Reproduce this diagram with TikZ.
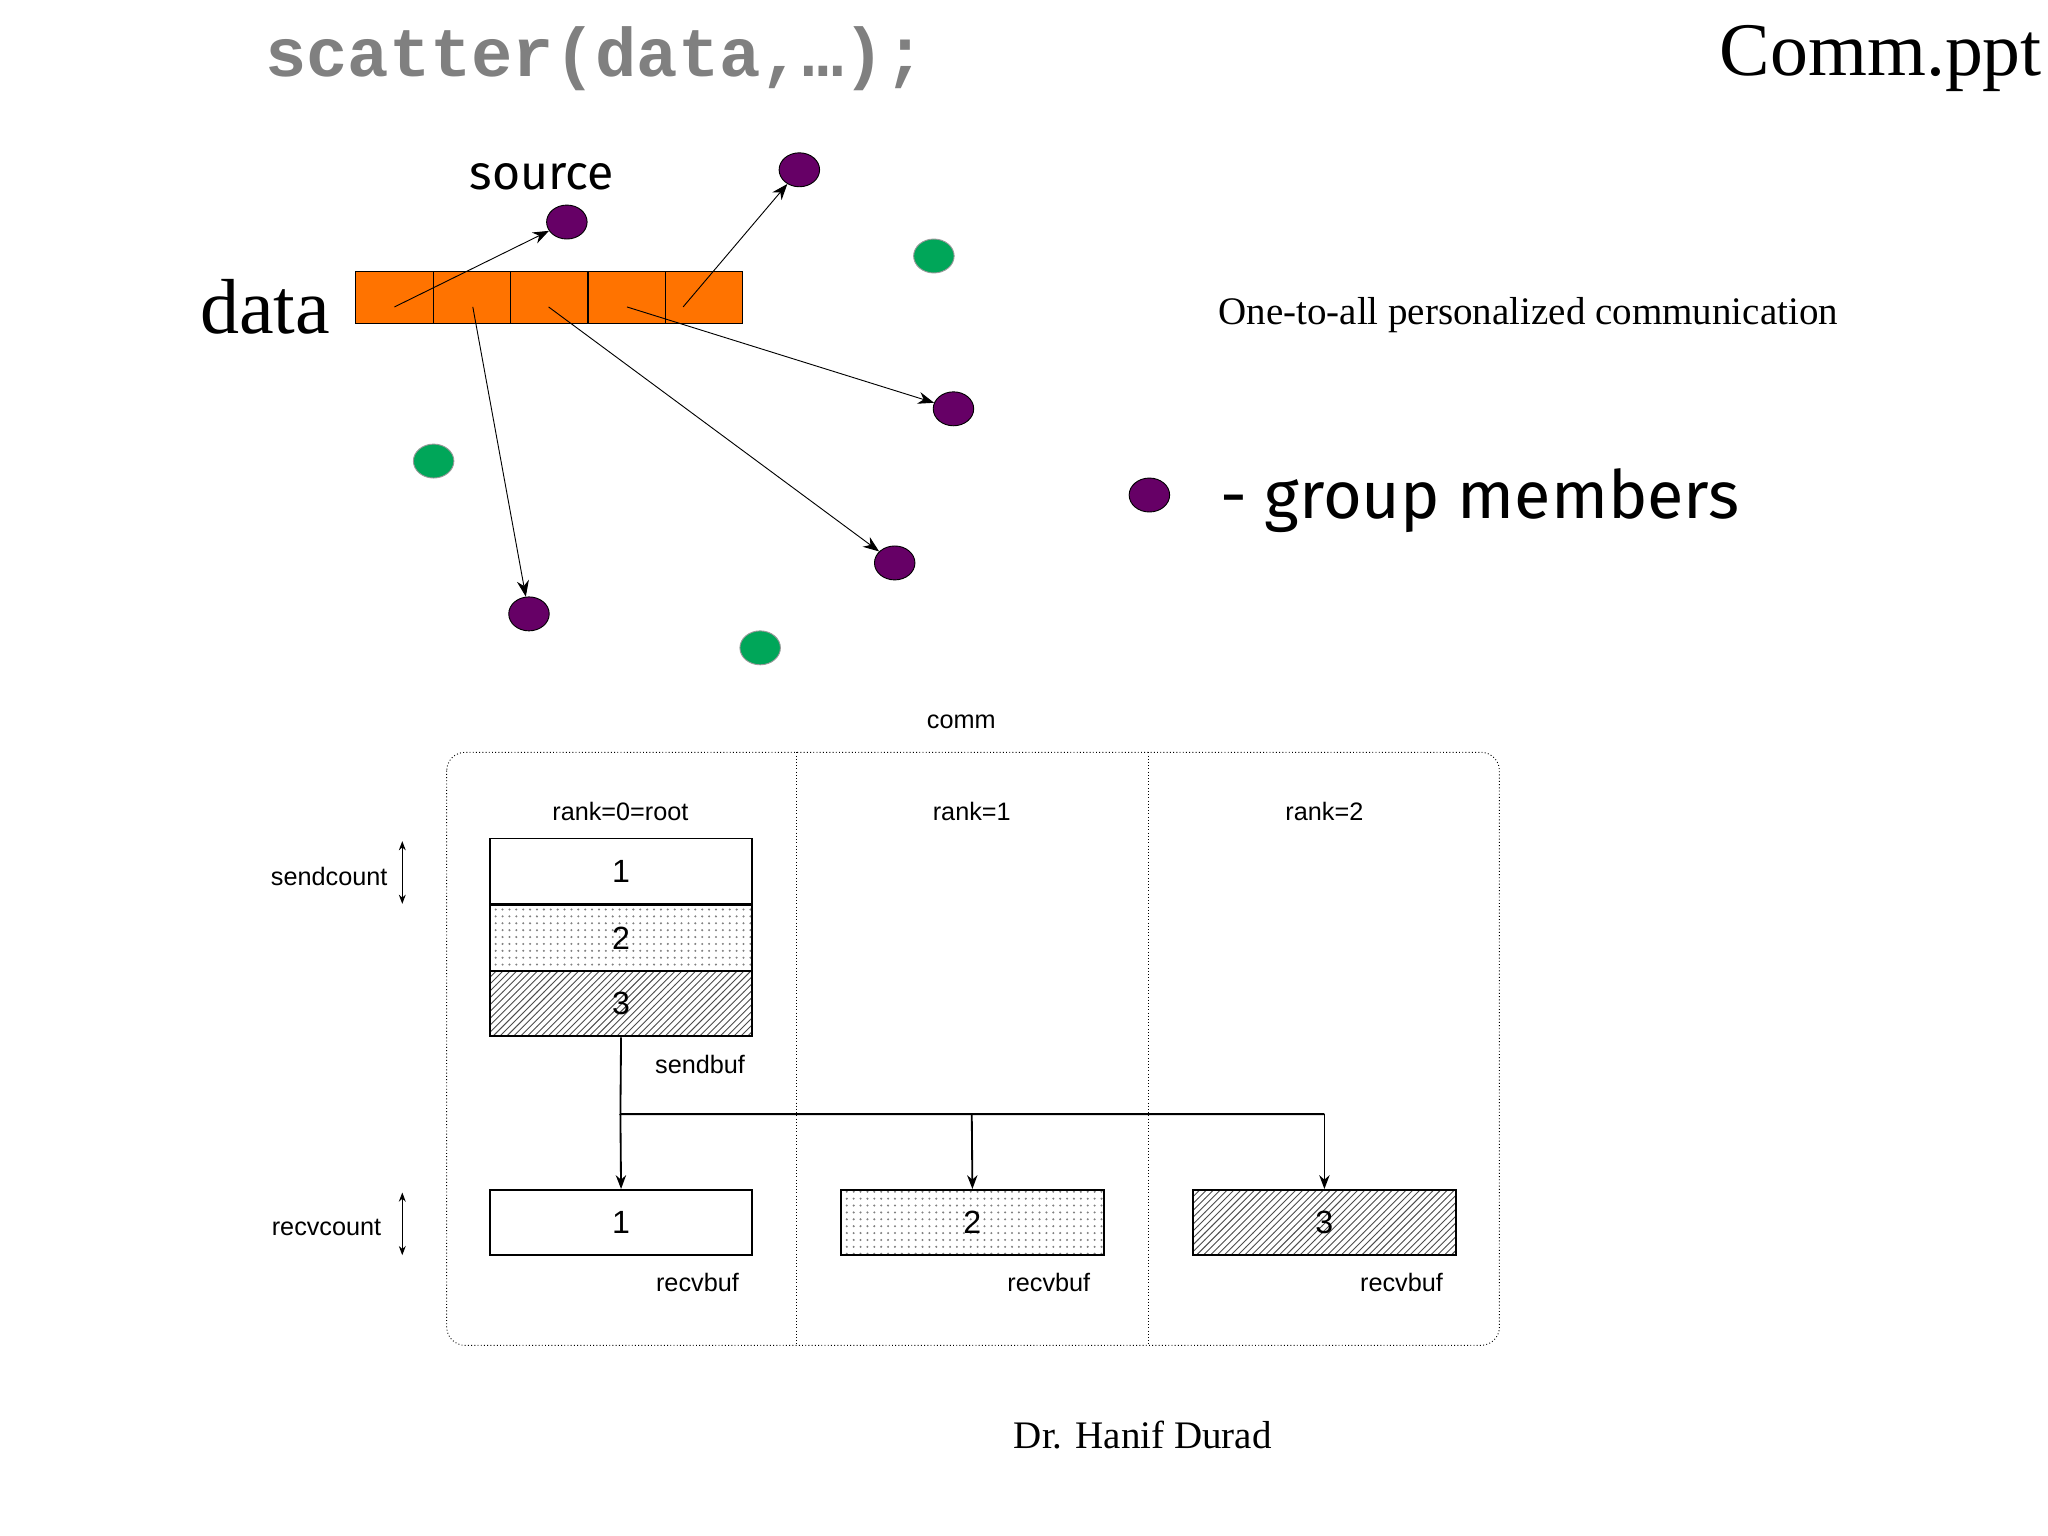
\documentclass[tikz,border=0pt]{standalone}
\usepackage{fontspec}
\setmainfont{Liberation Serif}
\newfontfamily\mono{Liberation Mono}
\newfontfamily\sans{Liberation Sans}
\newfontfamily\comic{Fira Sans}
\usetikzlibrary{arrows.meta,patterns,shapes.geometric}
\begin{document}
\begin{tikzpicture}[x=0.02cm,y=-0.02cm,
 pm/.style={ellipse,draw=black,fill=violet!80!black,minimum width=0.62cm,minimum height=0.52cm,inner sep=0pt},
 tm/.style={ellipse,draw=black!40,fill=teal!70!green,minimum width=0.62cm,minimum height=0.52cm,inner sep=0pt},
 cell/.style={draw=black,fill=orange!90!red,minimum width=1.18cm,minimum height=0.8cm,inner sep=0pt},
 arr/.style={-{Stealth[length=7pt]},thin},
 buf/.style={draw=black,thick,minimum width=4.02cm,minimum height=1.0cm,inner sep=0pt,font=\sans\fontsize{14}{14}\selectfont},
 sm/.style={font=\sans\fontsize{11}{12}\selectfont},
 dots/.style={pattern=dots,pattern color=black!50},
 hatch/.style={pattern=north east lines,pattern color=black!70}]
\useasboundingbox (0,0) rectangle (1568,1176);
\node[font=\mono\bfseries\fontsize{30}{30}\selectfont,text=black!50] (t) at (456,45) {scatter(data,…);};
\node[font=\fontsize{33}{33}\selectfont] (cp) at (1440,45) {Comm.ppt};
\node[font=\comic\fontsize{21}{21}\selectfont] (src) at (415,135) {source};
\node[font=\fontsize{34}{34}\selectfont] (dl) at (203,235) {data};
\foreach \i/\x in {1/302,2/361,3/420,4/480,5/539}{\node[cell] (c\i) at (\x,228) {};}
\node[pm] (p1) at (434,170) {};
\node[pm] (p2) at (612,130) {};
\node[pm] (p3) at (730,313) {};
\node[pm] (p4) at (685,431) {};
\node[pm] (p5) at (405,470) {};
\node[tm] (g1) at (715,196) {};
\node[tm] (g2) at (332,353) {};
\node[tm] (g3) at (582,496) {};
\coordinate (a1) at (302,235);\coordinate (a2) at (523,235);\coordinate (a3) at (480,235);
\coordinate (a4) at (420,235);\coordinate (a5) at (362,235);
\draw[arr] (a1) -- (p1);
\draw[arr] (a2) -- (p2);
\draw[arr] (a3) -- (p3);
\draw[arr] (a4) -- (p4);
\draw[arr] (a5) -- (p5);
\node[font=\fontsize{17}{17}\selectfont] (o) at (1170,241) {One-to-all personalized communication};
\node[pm] (pl) at (880,379) {};
\node[font=\comic\fontsize{29}{29}\selectfont,anchor=west] (gm) at (928,383) {- group members};
% bottom
\node[sm] (comm) at (736,553) {comm};
\draw[densely dotted,rounded corners=8pt] (342,576) rectangle (1148,1030);
\draw[densely dotted] (610,576) -- (610,1030) (879,576) -- (879,1030);
\node[sm] (r0) at (475,621) {rank=0=root};
\node[sm] (r1) at (744,621) {rank=1};
\node[sm] (r2) at (1014,621) {rank=2};
\node[sm] (sc) at (252,671) {sendcount};
\node[sm] (rc) at (250,940) {recvcount};
\coordinate (s1) at (308,644);\coordinate (s2) at (308,692);
\coordinate (q1) at (308,913);\coordinate (q2) at (308,961);
\draw[{Stealth[length=4pt]}-{Stealth[length=4pt]}] (s1) -- (s2);
\draw[{Stealth[length=4pt]}-{Stealth[length=4pt]}] (q1) -- (q2);
\node[buf] (b1) at (475.5,667) {1};
\node[buf,dots] (b2) at (475.5,718) {2};
\node[buf,hatch] (b3) at (475.5,768.5) {3};
\node[sm] (sb) at (536,815) {sendbuf};
\node[buf] (v1) at (475.5,936) {1};
\node[buf,dots] (v2) at (744.5,936) {2};
\node[buf,hatch] (v3) at (1014,936) {3};
\node[sm] (rb1) at (534,982) {recvbuf};
\node[sm] (rb2) at (803,982) {recvbuf};
\node[sm] (rb3) at (1073,982) {recvbuf};
\coordinate (j0) at (475,853);\coordinate (j1) at (744,853);\coordinate (j2) at (1014,853);
\draw[thick] (b3.south) -- (j0) -- (j2);
\draw[thick,-{Stealth[length=6pt]}] (j0) -- (v1.north);
\draw[thick,-{Stealth[length=6pt]}] (j1) -- (v2.north);
\draw[thick,-{Stealth[length=6pt]}] (j2) -- (v3.north);
\node[font=\fontsize{17}{17}\selectfont] (dr) at (875,1099) {Dr. Hanif Durad};
\end{tikzpicture}
\end{document}
